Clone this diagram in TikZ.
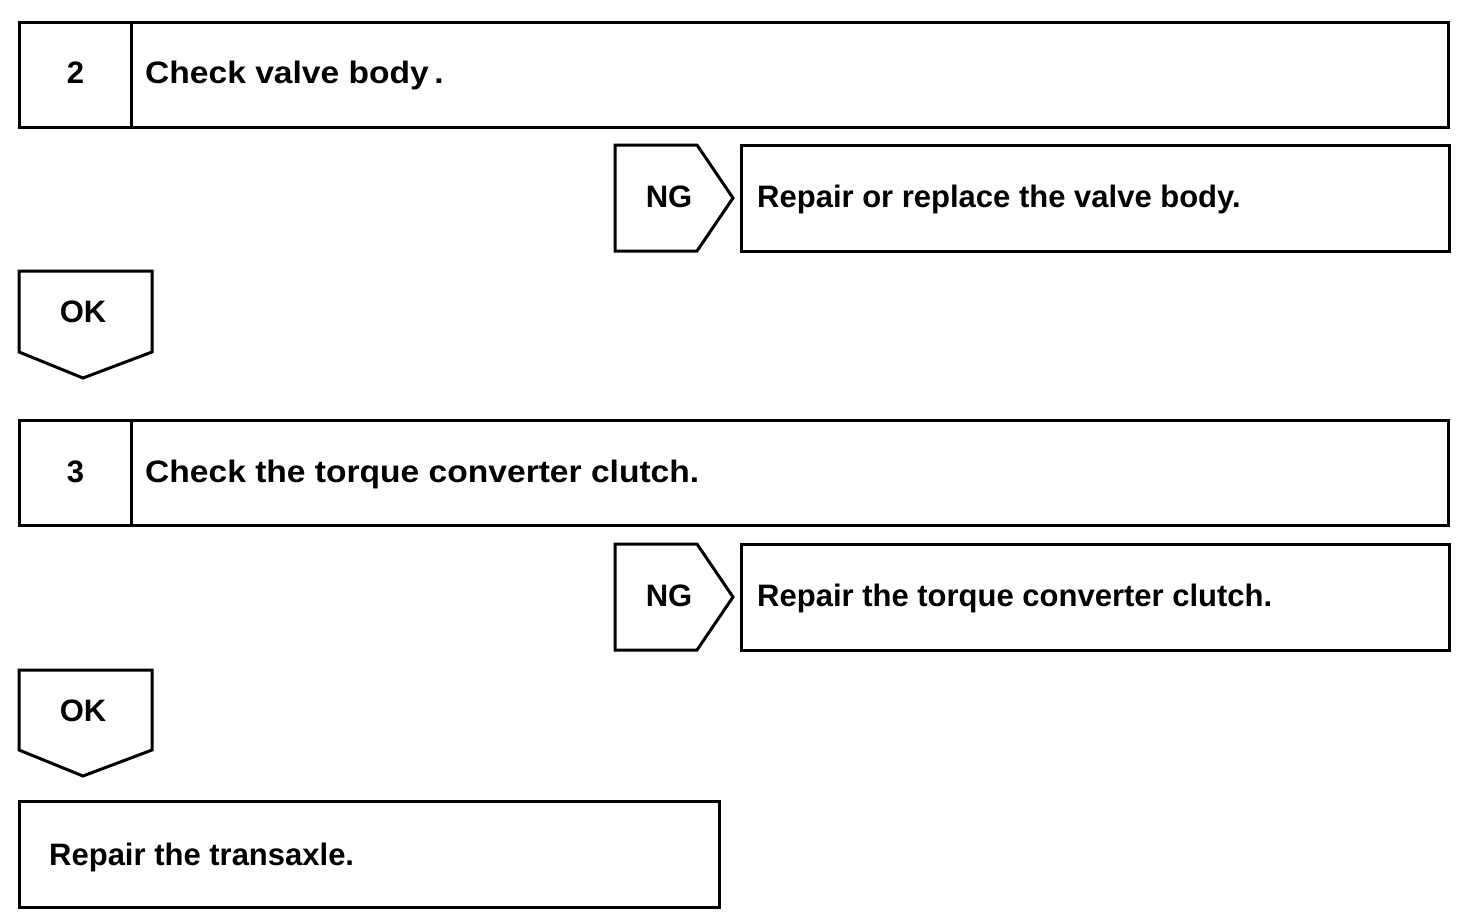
\documentclass[tikz,border=0pt]{standalone}
\usepackage{fontspec}
\setmainfont{Liberation Sans}
\usetikzlibrary{calc}
\begin{document}
\begin{tikzpicture}[x=1pt,y=-1pt,
  frame/.style={draw=black,line width=3pt,line join=miter},
  lbl/.style={font=\bfseries\fontsize{31}{36}\selectfont,inner sep=0pt,anchor=base},
  lft/.style={lbl,anchor=base west}]
\useasboundingbox (0,0) rectangle (1472,918);
% step 2
\draw[frame] (19,22) rectangle (1448,127);
\draw[frame] (131,22) -- (131,127);
\node[lbl] (n2) at (75.5,83) {2};
\node[lft] (t2) at (145,83) {\scalebox{1.083}[1]{Check valve body\,.}};
% NG 1
\draw[frame] (615,145) -- (697,145) -- (733,198) -- (697,251) -- (615,251) -- cycle;
\node[lbl] (ng1) at (669,207) {NG};
\draw[frame] (741,145) rectangle (1449,251);
\node[lft] (r1) at (757,207) {Repair or replace the valve body.};
% OK 1
\draw[frame] (19,271) -- (152,271) -- (152,352) -- (83,378) -- (19,352) -- cycle;
\node[lbl] (ok1) at (83,322) {OK};
% step 3
\draw[frame] (19,420) rectangle (1448,525);
\draw[frame] (131,420) -- (131,525);
\node[lbl] (n3) at (75.5,482) {3};
\node[lft] (t3) at (145,482) {\scalebox{1.083}[1]{Check the torque converter clutch.}};
% NG 2
\draw[frame] (615,544) -- (697,544) -- (733,597) -- (697,650) -- (615,650) -- cycle;
\node[lbl] (ng2) at (669,606) {NG};
\draw[frame] (741,544) rectangle (1449,650);
\node[lft] (r2) at (757,606) {Repair the torque converter clutch.};
% OK 2
\draw[frame] (19,670) -- (152,670) -- (152,750) -- (83,776) -- (19,750) -- cycle;
\node[lbl] (ok2) at (83,721) {OK};
% final
\draw[frame] (19,801) rectangle (719,907);
\node[lft] (r3) at (49,865) {Repair the transaxle.};
\end{tikzpicture}
\end{document}
